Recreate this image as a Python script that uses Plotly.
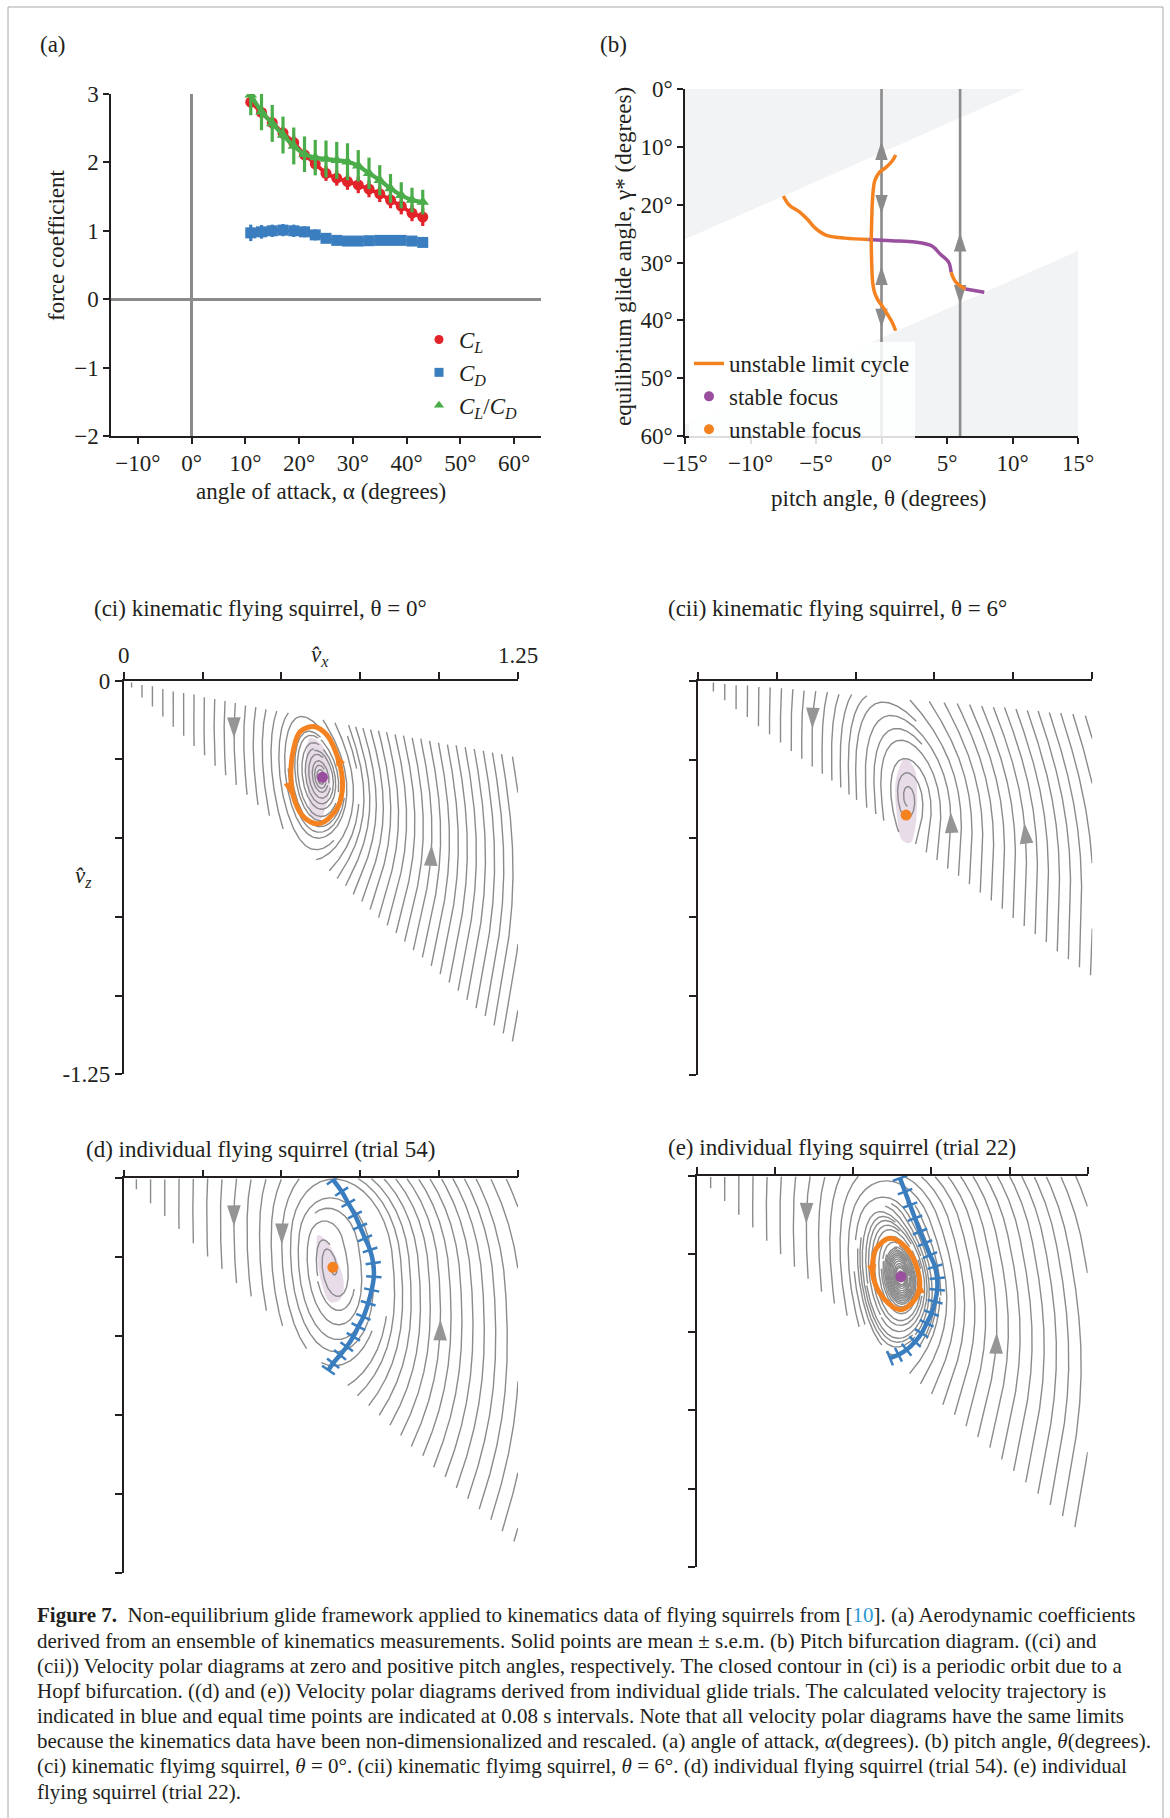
import math
import numpy as np
import plotly.graph_objects as go

W, H = 1170, 1818
FONT = "Liberation Serif"
INK = "#231f20"
RED, BLUE, GREEN = "#e2232a", "#3a7ebf", "#4aad4a"
ORANGE, PURPLE = "#f58220", "#9a4e9e"
GREY, SHADE, LILAC = "#8b8b8b", "#f2f3f5", "#e8dce9"
L = 1.25
FS = 23

# ---------------- panel (a): aerodynamic coefficients ----------------
alpha = [11, 13, 15, 17, 19, 21, 23, 25, 27, 29, 31, 33, 35, 37, 39, 41, 43]
CL = [2.88, 2.73, 2.58, 2.43, 2.29, 2.11, 1.98, 1.84, 1.77, 1.72, 1.67, 1.61, 1.54, 1.45, 1.36, 1.26, 1.20]
CL_err = [0.08, 0.08, 0.09, 0.09, 0.10, 0.10, 0.10, 0.11, 0.11, 0.12, 0.12, 0.12, 0.12, 0.12, 0.12, 0.12, 0.13]
CD = [0.97, 0.985, 1.00, 1.01, 1.00, 0.985, 0.94, 0.89, 0.86, 0.85, 0.85, 0.855, 0.86, 0.86, 0.86, 0.85, 0.83]
CD_err = [0.12, 0.10, 0.09, 0.09, 0.09, 0.08, 0.08, 0.07, 0.06, 0.06, 0.06, 0.06, 0.06, 0.06, 0.06, 0.06, 0.06]
LD = [2.99, 2.74, 2.57, 2.40, 2.24, 2.12, 2.07, 2.05, 2.03, 2.01, 1.95, 1.84, 1.74, 1.62, 1.52, 1.45, 1.42]
LD_err = [0.30, 0.27, 0.27, 0.27, 0.27, 0.26, 0.26, 0.27, 0.27, 0.27, 0.23, 0.23, 0.22, 0.21, 0.19, 0.18, 0.18]

# ---------------- panel (b): bifurcation diagram ----------------
focus_stable = [False] * 7 + [True] * 6 + [False] * 2 + [True] * 2
lc_theta = [1.08, 0.83, 0.32, -0.19, -0.52, -0.62, -0.70, -0.75, -0.78, -0.75, -0.67, -0.53, -0.27, 0.14, 0.52, 0.83, 1.08]
lc_gamma = [11.4, 12.4, 13.6, 14.5, 15.9, 17.3, 19.6, 23.1, 26.0, 30.0, 33.5, 35.2, 36.5, 37.8, 39.2, 40.4, 41.8]
pitch_lines = [0, 6]
arrow_theta = [0, 0, 0, 0, 6, 6]
arrow_gamma = [9.0, 21.6, 30.6, 41.3, 24.8, 37.2]
arrow_dir = ["up", "down", "up", "down", "up", "down"]

# ---------------- velocity polar diagrams ----------------
ci_theta, cii_theta = 0, 6
ci_focus, cii_focus, d_focus, e_focus = (0.630, -0.307), (0.660, -0.426), (0.663, -0.282), (0.653, -0.322)
ci_lc_vx = [0.559, 0.606, 0.644, 0.670, 0.691, 0.693, 0.680, 0.638, 0.612, 0.569, 0.538, 0.530, 0.538]
ci_lc_vz = [-0.162, -0.146, -0.172, -0.220, -0.294, -0.347, -0.399, -0.447, -0.454, -0.431, -0.368, -0.294, -0.220]
ci_lc_arrow = [(0.670, -0.225), (0.533, -0.368)]
e_lc_vx = [0.575, 0.618, 0.671, 0.708, 0.712, 0.692, 0.650, 0.597, 0.565, 0.563]
e_lc_vz = [-0.231, -0.199, -0.231, -0.306, -0.359, -0.402, -0.428, -0.391, -0.327, -0.274]
e_lc_arrow = [(0.710, -0.33), (0.566, -0.33)]
ci_shade_vx = [0.591, 0.629, 0.654, 0.648, 0.616, 0.597, 0.584, 0.578]
ci_shade_vz = [-0.182, -0.204, -0.283, -0.378, -0.448, -0.436, -0.346, -0.251]
cii_shade_vx = [0.657, 0.688, 0.695, 0.688, 0.673, 0.647, 0.631, 0.628]
cii_shade_vz = [-0.245, -0.283, -0.378, -0.473, -0.514, -0.505, -0.426, -0.315]
d_shade_vx = [0.616, 0.641, 0.679, 0.698, 0.685, 0.654, 0.629, 0.613]
d_shade_vz = [-0.180, -0.196, -0.265, -0.338, -0.386, -0.392, -0.338, -0.243]
d_traj_vx = [0.664, 0.691, 0.712, 0.733, 0.749, 0.765, 0.781, 0.791, 0.793, 0.786, 0.775, 0.760, 0.744, 0.728, 0.707, 0.686, 0.664, 0.649]
d_traj_vz = [-0.005, -0.042, -0.079, -0.116, -0.153, -0.190, -0.227, -0.269, -0.312, -0.354, -0.396, -0.439, -0.470, -0.502, -0.534, -0.560, -0.586, -0.608]
e_traj_vx = [0.650, 0.666, 0.682, 0.698, 0.714, 0.730, 0.746, 0.762, 0.769, 0.769, 0.762, 0.751, 0.735, 0.719, 0.698, 0.671, 0.645, 0.618]
e_traj_vz = [-0.007, -0.050, -0.093, -0.135, -0.178, -0.215, -0.253, -0.290, -0.327, -0.364, -0.402, -0.439, -0.471, -0.503, -0.530, -0.556, -0.572, -0.583]
ci_arrows = [(0.362, -0.182), (0.970, -0.521)]
cii_arrows = [(0.364, -0.151), (0.799, -0.415), (1.050, -0.447)]
d_arrows = [(0.333, -0.153), (0.513, -0.211), (1.000, -0.449)]
e_arrows = [(0.332, -0.151), (0.964, -0.503)]
trial_gamma_range = {"d": (0.0, 43.0), "e": (0.0, 43.0)}

# ---------------- glide model built from the panel (a) coefficients ----------------
A_LO, A_HI = alpha[0], alpha[-1]
pCL = [float(c) for c in np.polyfit(alpha, CL, 3)]
pCD = [float(c) for c in np.polyfit(alpha, CD, 3)]


def poly(p, x):
    r = 0.0
    for c in p:
        r = r * x + c
    return r


def make_field(theta, scale=1.0):
    def f(vx, vz):
        v = math.hypot(vx, vz)
        a = math.degrees(math.atan2(-vz, vx)) + theta
        a = A_LO if a < A_LO else (A_HI if a > A_HI else a)
        cl = scale * poly(pCL, a)
        cd = scale * poly(pCD, a)
        return (-v * (cd * vx + cl * vz), v * (cl * vx - cd * vz) - 1.0)
    return f


def fit_theta_scale(focus):
    vx, vz = focus
    g = math.degrees(math.atan2(-vz, vx))
    t = math.tan(math.radians(g))
    grid = np.linspace(A_LO, A_HI, 961)
    best = float(min(grid, key=lambda a: abs(poly(pCD, a) / poly(pCL, a) - t)))
    scale = 1.0 / ((vx * vx + vz * vz) * math.hypot(poly(pCL, best), poly(pCD, best)))
    return best - g, scale


def spiral_points(n):
    out = []
    x0, y0, x1, y1 = 0, 0, n - 1, n - 1
    while x0 <= x1 and y0 <= y1:
        for i in range(x0, x1 + 1):
            out.append((i, y0))
        for j in range(y0 + 1, y1 + 1):
            out.append((x1, j))
        if y1 > y0:
            for i in range(x1 - 1, x0 - 1, -1):
                out.append((i, y1))
        if x1 > x0:
            for j in range(y1 - 1, y0, -1):
                out.append((x0, j))
        x0 += 1; y0 += 1; x1 -= 1; y1 -= 1
    return [((i + 0.5) * L / n, -(j + 0.5) * L / n) for i, j in out]


def even_streams(f, valid, dsep, dtest, ds, fallback, prior, minlen, maxlen=4.0):
    """Evenly spaced streamlines (Jobard-Lefer style)."""
    cs = dsep
    grid = {}

    def key(x, z):
        return (int(math.floor(x / cs)), int(math.floor(z / cs)))

    def add(x, z, lid, idx):
        grid.setdefault(key(x, z), []).append((x, z, lid, idx))

    for pl in prior:
        for p in pl:
            add(p[0], p[1], -1, 0)
    skip = int(3.0 * dsep / ds) + 2

    def near(x, z, d, lid=-2, idx=0):
        kx, kz = key(x, z)
        d2 = d * d
        for i in (kx - 1, kx, kx + 1):
            for j in (kz - 1, kz, kz + 1):
                b = grid.get((i, j))
                if not b:
                    continue
                for (px, pz, l, k) in b:
                    if l == lid and abs(k - idx) <= skip:
                        continue
                    if (px - x) * (px - x) + (pz - z) * (pz - z) < d2:
                        return True
        return False

    def step(x, z, sg):
        ax, az = f(x, z)
        m = math.hypot(ax, az)
        if m < 1e-9:
            return None
        hx = x + 0.5 * ds * sg * ax / m
        hz = z + 0.5 * ds * sg * az / m
        bx, bz = f(hx, hz)
        m2 = math.hypot(bx, bz)
        if m2 < 1e-9:
            return None
        return (x + ds * sg * bx / m2, z + ds * sg * bz / m2)

    counter = [0]

    def trace(sx, sz):
        lid = counter[0]
        counter[0] += 1
        keys = [key(sx, sz)]
        add(sx, sz, lid, 0)
        halves, reasons = [], []
        for sg in (1, -1):
            pts = []
            x, z = sx, sz
            length, idx, reason = 0.0, 0, "len"
            while length < maxlen:
                r = step(x, z, sg)
                if r is None:
                    reason = "stall"
                    break
                x2, z2 = r
                if not valid(x2, z2):
                    reason = "edge"
                    break
                idx += sg
                if near(x2, z2, dtest, lid, idx):
                    reason = "near"
                    break
                add(x2, z2, lid, idx)
                keys.append(key(x2, z2))
                pts.append(r)
                x, z = x2, z2
                length += ds
            halves.append(pts)
            reasons.append(reason)
        line = halves[1][::-1] + [(sx, sz)] + halves[0]
        ln = (len(line) - 1) * ds
        ok = ln >= minlen or (reasons[0] == "edge" and reasons[1] == "edge" and ln >= 0.01)
        if not ok:
            for kk in set(keys):
                grid[kk] = [e for e in grid[kk] if e[2] != lid]
            return None
        return line

    lines = []
    fb = iter(fallback)
    qi = 0
    stepk = max(1, int(0.5 * dsep / ds))
    while True:
        if qi < len(lines):
            ln = lines[qi]
            qi += 1
            for i in range(0, len(ln), stepk):
                i0, i1 = max(i - 1, 0), min(i + 1, len(ln) - 1)
                tx, tz = ln[i1][0] - ln[i0][0], ln[i1][1] - ln[i0][1]
                m = math.hypot(tx, tz)
                if m == 0:
                    continue
                nx, nz = -tz / m, tx / m
                for sgn in (1, -1):
                    cx, cz = ln[i][0] + sgn * dsep * nx, ln[i][1] + sgn * dsep * nz
                    if valid(cx, cz) and not near(cx, cz, dsep * 0.98):
                        new = trace(cx, cz)
                        if new:
                            lines.append(new)
        else:
            found = False
            for sx, sz in fb:
                if valid(sx, sz) and not near(sx, sz, dsep):
                    new = trace(sx, sz)
                    if new:
                        lines.append(new)
                        found = True
                        break
            if not found:
                break
    return lines


def compute_streams(f, gmin, gmax, focus, dsep, fine_passes):
    def valid(x, z):
        if not (0.0 < x < L and -L < z < 0.0):
            return False
        g = math.degrees(math.atan2(-z, x))
        return gmin <= g <= gmax
    gm = math.radians(0.5 * (gmin + gmax))
    start = [(0.95 * math.cos(gm), -0.95 * math.sin(gm))]
    lines = even_streams(f, valid, dsep, 0.5 * dsep, 0.004, start + spiral_points(int(L / dsep)), [], 0.1)
    cx, cz = focus
    for rx, rz, dfine in fine_passes:
        def vin(x, z, rx=rx, rz=rz):
            return valid(x, z) and ((x - cx) / rx) ** 2 + ((z - cz) / rz) ** 2 <= 1.0
        nf = int(L / dfine)
        seeds = [s for s in spiral_points(nf) if vin(*s)]
        lines += even_streams(f, vin, dfine, 0.5 * dfine, min(0.003, dfine / 4), seeds, lines, 0.04, 2.5)
    return lines


def place_arrows(lines, f, targets):
    pts = [p for ln in lines for p in ln]
    xs, zs, ang = [], [], []
    for tx, tz in targets:
        bx, bz = min(pts, key=lambda p: (p[0] - tx) ** 2 + (p[1] - tz) ** 2)
        ax, az = f(bx, bz)
        xs.append(bx); zs.append(bz); ang.append(math.degrees(math.atan2(ax, az)))
    return xs, zs, ang


def flow_angles(f, targets):
    out = []
    for tx, tz in targets:
        ax, az = f(tx, tz)
        out.append(math.degrees(math.atan2(ax, az)))
    return out


fig = go.Figure()

# ---------------- panel (a) traces ----------------
for yv, ev, col, sym, ms, lw in [(CD, CD_err, BLUE, "square", 11, 3.2), (CL, CL_err, RED, "circle", 11, 3.8),
                                  (LD, LD_err, GREEN, "triangle-up", 11, 4.2)]:
    fig.add_trace(go.Scatter(x=alpha, y=yv, mode="lines+markers", xaxis="x", yaxis="y", showlegend=False,
                             line=dict(color=col, width=lw, shape="spline", smoothing=1.0),
                             marker=dict(color=col, symbol=sym, size=ms),
                             error_y=dict(type="data", array=ev, color=col, thickness=3.2, width=0)))
for name, col, sym in [("<i>C</i><sub><i>L</i></sub>", RED, "circle"), ("<i>C</i><sub><i>D</i></sub>", BLUE, "square"),
                       ("<i>C</i><sub><i>L</i></sub>/<i>C</i><sub><i>D</i></sub>", GREEN, "triangle-up")]:
    fig.add_trace(go.Scatter(x=[None], y=[None], mode="markers", xaxis="x", yaxis="y", name=name,
                             legend="legend", marker=dict(color=col, symbol=sym, size=9)))

# ---------------- panel (b) traces ----------------
fig.add_trace(go.Scatter(x=[-15, A_LO, -15], y=[0, 0, A_LO + 15], fill="toself", fillcolor=SHADE, mode="none",
                         xaxis="x2", yaxis="y2", showlegend=False))
fig.add_trace(go.Scatter(x=[-15, 15, 15, -15], y=[A_HI + 15, A_HI - 15, 60, 60], fill="toself", fillcolor=SHADE,
                         mode="none", xaxis="x2", yaxis="y2", showlegend=False))
for th in pitch_lines:
    fig.add_trace(go.Scatter(x=[th, th], y=[0, 60], mode="lines", line=dict(color=GREY, width=2.6),
                             xaxis="x2", yaxis="y2", showlegend=False))
fig.add_trace(go.Scatter(x=arrow_theta, y=arrow_gamma, mode="markers", xaxis="x2", yaxis="y2", showlegend=False,
                         marker=dict(symbol="arrow", size=20, color=GREY,
                                     angle=[0 if d == "up" else 180 for d in arrow_dir])))
gamma_eq = [math.degrees(math.atan(1.0 / r)) for r in LD]
theta_eq = [a - g for a, g in zip(alpha, gamma_eq)]
k, nseg = 0, len(alpha) - 1
while k < nseg:
    flag = focus_stable[k]
    k1 = k
    while k1 + 1 < nseg and focus_stable[k1 + 1] == flag:
        k1 += 1
    idx = list(range(k, k1 + 2))
    fig.add_trace(go.Scatter(x=[theta_eq[i] for i in idx], y=[gamma_eq[i] for i in idx], mode="lines",
                             line=dict(color=PURPLE if flag else ORANGE, width=3.5, shape="spline"),
                             xaxis="x2", yaxis="y2", showlegend=False))
    k = k1 + 1
fig.add_trace(go.Scatter(x=lc_theta, y=lc_gamma, mode="lines", line=dict(color=ORANGE, width=3.5, shape="spline"),
                         xaxis="x2", yaxis="y2", name="unstable limit cycle", legend="legend2"))
fig.add_trace(go.Scatter(x=[None], y=[None], mode="markers", marker=dict(color=PURPLE, size=10),
                         xaxis="x2", yaxis="y2", name="stable focus", legend="legend2"))
fig.add_trace(go.Scatter(x=[None], y=[None], mode="markers", marker=dict(color=ORANGE, size=10),
                         xaxis="x2", yaxis="y2", name="unstable focus", legend="legend2"))

# ---------------- velocity polar panels ----------------
th_d, s_d = fit_theta_scale(d_focus)
th_e, s_e = fit_theta_scale(e_focus)
panels = [
    dict(ax=("x3", "y3"), f=make_field(ci_theta), g=(A_LO - ci_theta, A_HI - ci_theta), focus=ci_focus, stable=True,
         dsep=0.033, fine=[(0.11, 0.19, 0.014)], arrows=ci_arrows, lc=(ci_lc_vx, ci_lc_vz), lca=ci_lc_arrow,
         shade=(ci_shade_vx, ci_shade_vz), traj=None),
    dict(ax=("x4", "y4"), f=make_field(cii_theta), g=(A_LO - cii_theta, A_HI - cii_theta), focus=cii_focus,
         stable=False, dsep=0.036, fine=[], arrows=cii_arrows, lc=None, lca=None,
         shade=(cii_shade_vx, cii_shade_vz), traj=None),
    dict(ax=("x5", "y5"), f=make_field(th_d, s_d), g=trial_gamma_range["d"], focus=d_focus, stable=False,
         dsep=0.045, fine=[(0.15, 0.2, 0.03)], arrows=d_arrows, lc=None, lca=None, shade=(d_shade_vx, d_shade_vz),
         traj=(d_traj_vx, d_traj_vz)),
    dict(ax=("x6", "y6"), f=make_field(th_e, s_e), g=trial_gamma_range["e"], focus=e_focus, stable=True,
         dsep=0.045, fine=[(0.065, 0.1, 0.0055), (0.15, 0.24, 0.013)], arrows=e_arrows, lc=(e_lc_vx, e_lc_vz),
         lca=e_lc_arrow, shade=None, traj=(e_traj_vx, e_traj_vz)),
]

for P in panels:
    xa, ya = P["ax"]
    f = P["f"]
    if P["shade"] is not None:
        sx, sz = P["shade"]
        fig.add_trace(go.Scatter(x=sx + sx[:1], y=sz + sz[:1], fill="toself", fillcolor=LILAC, mode="lines",
                                 line=dict(width=0, color=LILAC, shape="spline"), xaxis=xa, yaxis=ya,
                                 showlegend=False))
    lines = compute_streams(f, P["g"][0], P["g"][1], P["focus"], P["dsep"], P["fine"])
    X, Z = [], []
    for ln in lines:
        X += [p[0] for p in ln] + [None]
        Z += [p[1] for p in ln] + [None]
    fig.add_trace(go.Scatter(x=X, y=Z, mode="lines", line=dict(color=GREY, width=1.4), xaxis=xa, yaxis=ya,
                             showlegend=False, hoverinfo="skip"))
    ax_x, ax_z, ax_a = place_arrows(lines, f, P["arrows"])
    fig.add_trace(go.Scatter(x=ax_x, y=ax_z, mode="markers", xaxis=xa, yaxis=ya, showlegend=False,
                             marker=dict(symbol="arrow", size=22, color="#959595", angle=ax_a)))
    if P["traj"] is not None:
        tx, tz = P["traj"]
        angs = []
        for i in range(len(tx)):
            i0, i1 = max(i - 1, 0), min(i + 1, len(tx) - 1)
            angs.append(math.degrees(math.atan2(tx[i1] - tx[i0], tz[i1] - tz[i0])) + 90)
        fig.add_trace(go.Scatter(x=tx, y=tz, mode="lines+markers", xaxis=xa, yaxis=ya, showlegend=False,
                                 line=dict(color=BLUE, width=4.5, shape="spline"),
                                 marker=dict(symbol="line-ns", size=11, angle=angs,
                                             line=dict(width=2.5, color=BLUE))))
    if P["lc"] is not None:
        lx, lz = P["lc"]
        fig.add_trace(go.Scatter(x=lx + lx[:1], y=lz + lz[:1], mode="lines", xaxis=xa, yaxis=ya, showlegend=False,
                                 line=dict(color=ORANGE, width=5, shape="spline")))
        fig.add_trace(go.Scatter(x=[p[0] for p in P["lca"]], y=[p[1] for p in P["lca"]], mode="markers",
                                 xaxis=xa, yaxis=ya, showlegend=False,
                                 marker=dict(symbol="arrow", size=15, color=ORANGE, angle=flow_angles(f, P["lca"]))))
    fig.add_trace(go.Scatter(x=[P["focus"][0]], y=[P["focus"][1]], mode="markers", xaxis=xa, yaxis=ya,
                             showlegend=False, marker=dict(color=PURPLE if P["stable"] else ORANGE, size=11)))


# ---------------- layout ----------------
def dx(x0, x1):
    return [x0 / W, x1 / W]


def dy(y0, y1):
    return [1 - y1 / H, 1 - y0 / H]


def axis(**kw):
    d = dict(showgrid=False, zeroline=False, showline=True, linecolor=INK, linewidth=1.5, ticks="outside",
             tickcolor=INK, tickwidth=1.5, ticklen=6, tickfont=dict(family=FONT, size=FS, color=INK),
             fixedrange=True, automargin=False)
    d.update(kw)
    return d


deg = lambda v: ("−" if v < 0 else "") + f"{abs(v)}°"
layout = dict(
    width=W, height=H, margin=dict(l=0, r=0, t=0, b=0, pad=0, autoexpand=False), paper_bgcolor="white",
    plot_bgcolor="rgba(0,0,0,0)", font=dict(family=FONT, size=FS, color=INK), hovermode=False,
    xaxis=axis(domain=dx(111, 541), range=[-15, 65], anchor="y", tickvals=list(range(-10, 61, 10)),
               ticktext=[deg(v) for v in range(-10, 61, 10)], zeroline=True, zerolinecolor=GREY, zerolinewidth=2.6),
    yaxis=axis(domain=dy(94, 436), range=[-2, 3], anchor="x", tickvals=list(range(-2, 4)),
               ticktext=[("−" if v < 0 else "") + str(abs(v)) for v in range(-2, 4)],
               zeroline=True, zerolinecolor=GREY, zerolinewidth=2.6),
    xaxis2=axis(domain=dx(685, 1078), range=[-15, 15], anchor="y2", tickvals=list(range(-15, 16, 5)),
                ticktext=[deg(v) for v in range(-15, 16, 5)]),
    yaxis2=axis(domain=dy(89, 436), range=[60, 0], anchor="x2", tickvals=list(range(0, 61, 10)),
                ticktext=[deg(v) for v in range(0, 61, 10)]),
    legend=dict(x=419 / W, y=1 - 318 / H, xanchor="left", yanchor="top", bgcolor="rgba(0,0,0,0)",
                font=dict(family=FONT, size=FS, color=INK), tracegroupgap=0),
    legend2=dict(x=689 / W, y=1 - 342 / H, xanchor="left", yanchor="top", bgcolor="rgba(255,255,255,0.85)",
                 font=dict(family=FONT, size=FS, color=INK), tracegroupgap=0),
)
minor_v = [0.25, 0.5, 0.75, 1.0]
phase_dom = {"3": (dx(123.7, 518), dy(680.7, 1074.3)), "4": (dx(697.7, 1092.3), dy(680.7, 1075)),
             "5": (dx(123.7, 518), dy(1178.3, 1572.7)), "6": (dx(696.7, 1087.7), dy(1176, 1566.7))}
for k_, (xd, yd) in phase_dom.items():
    lab = k_ == "3"
    mk = dict(ticks="outside", ticklen=7, tickwidth=1.5, tickcolor=INK)
    layout["xaxis" + k_] = axis(domain=xd, range=[0, L], anchor="y" + k_, side="top", tickvals=[0, L], ticklen=7,
                                ticktext=["0", "1.25"], showticklabels=lab, minor=dict(tickvals=minor_v, **mk))
    layout["yaxis" + k_] = axis(domain=yd, range=[-L, 0], anchor="x" + k_, tickvals=[0, -L], ticklen=7,
                                ticktext=["0", "-1.25"], showticklabels=lab,
                                minor=dict(tickvals=[-v for v in minor_v], **mk))
fig.update_layout(**layout)


def ann(text, x, y, xanchor="center", yanchor="middle", size=FS, angle=0):
    fig.add_annotation(text=text, x=x / W, y=1 - y / H, xref="paper", yref="paper", xanchor=xanchor,
                       yanchor=yanchor, showarrow=False, textangle=angle,
                       font=dict(family=FONT, size=size, color=INK))


ann("(a)", 53, 44)
ann("(b)", 613, 44)
ann("force coefficient", 57, 245, angle=-90)
ann("angle of attack, α (degrees)", 321, 492)
ann("equilibrium glide angle, γ* (degrees)", 624, 257, angle=-90)
ann("pitch angle, θ (degrees)", 878, 499)
ann("(ci) kinematic flying squirrel, θ = 0°", 92, 608, xanchor="left")
ann("(cii) kinematic flying squirrel, θ = 6°", 666, 608, xanchor="left")
ann("(d) individual flying squirrel (trial 54)", 84, 1149, xanchor="left")
ann("(e) individual flying squirrel (trial 22)", 666, 1147, xanchor="left")
ann("<i>v̂</i><sub><i>x</i></sub>", 320, 656)
ann("<i>v̂</i><sub><i>z</i></sub>", 83, 877)

caption_lines = [
    '<b>Figure 7.</b>  Non-equilibrium glide framework applied to kinematics data of flying squirrels from [<span style="color:#2a9ad6">10</span>]. (a) Aerodynamic coefficients',
    "derived from an ensemble of kinematics measurements. Solid points are mean ± s.e.m. (b) Pitch bifurcation diagram. ((ci) and",
    "(cii)) Velocity polar diagrams at zero and positive pitch angles, respectively. The closed contour in (ci) is a periodic orbit due to a",
    "Hopf bifurcation. ((d) and (e)) Velocity polar diagrams derived from individual glide trials. The calculated velocity trajectory is",
    "indicated in blue and equal time points are indicated at 0.08 s intervals. Note that all velocity polar diagrams have the same limits",
    "because the kinematics data have been non-dimensionalized and rescaled. (a) angle of attack, <i>α</i>(degrees). (b) pitch angle, <i>θ</i>(degrees).",
    "(ci) kinematic flyimg squirrel, <i>θ</i> = 0°. (cii) kinematic flyimg squirrel, <i>θ</i> = 6°. (d) individual flying squirrel (trial 54). (e) individual",
    "flying squirrel (trial 22).",
]
caption_y = [1615, 1641, 1666, 1691, 1716, 1741, 1766, 1792]
for t, yy in zip(caption_lines, caption_y):
    ann(t, 35, yy, xanchor="left", size=21)

fig.add_shape(type="rect", xref="paper", yref="paper", x0=8 / W, x1=1163 / W, y0=1 - 1830 / H, y1=1 - 7 / H,
              line=dict(color="#a8a8a8", width=1), fillcolor="rgba(0,0,0,0)", layer="below")

fig.write_html("out.html", config={"displayModeBar": False}, post_script="document.body.style.margin='0px';")
